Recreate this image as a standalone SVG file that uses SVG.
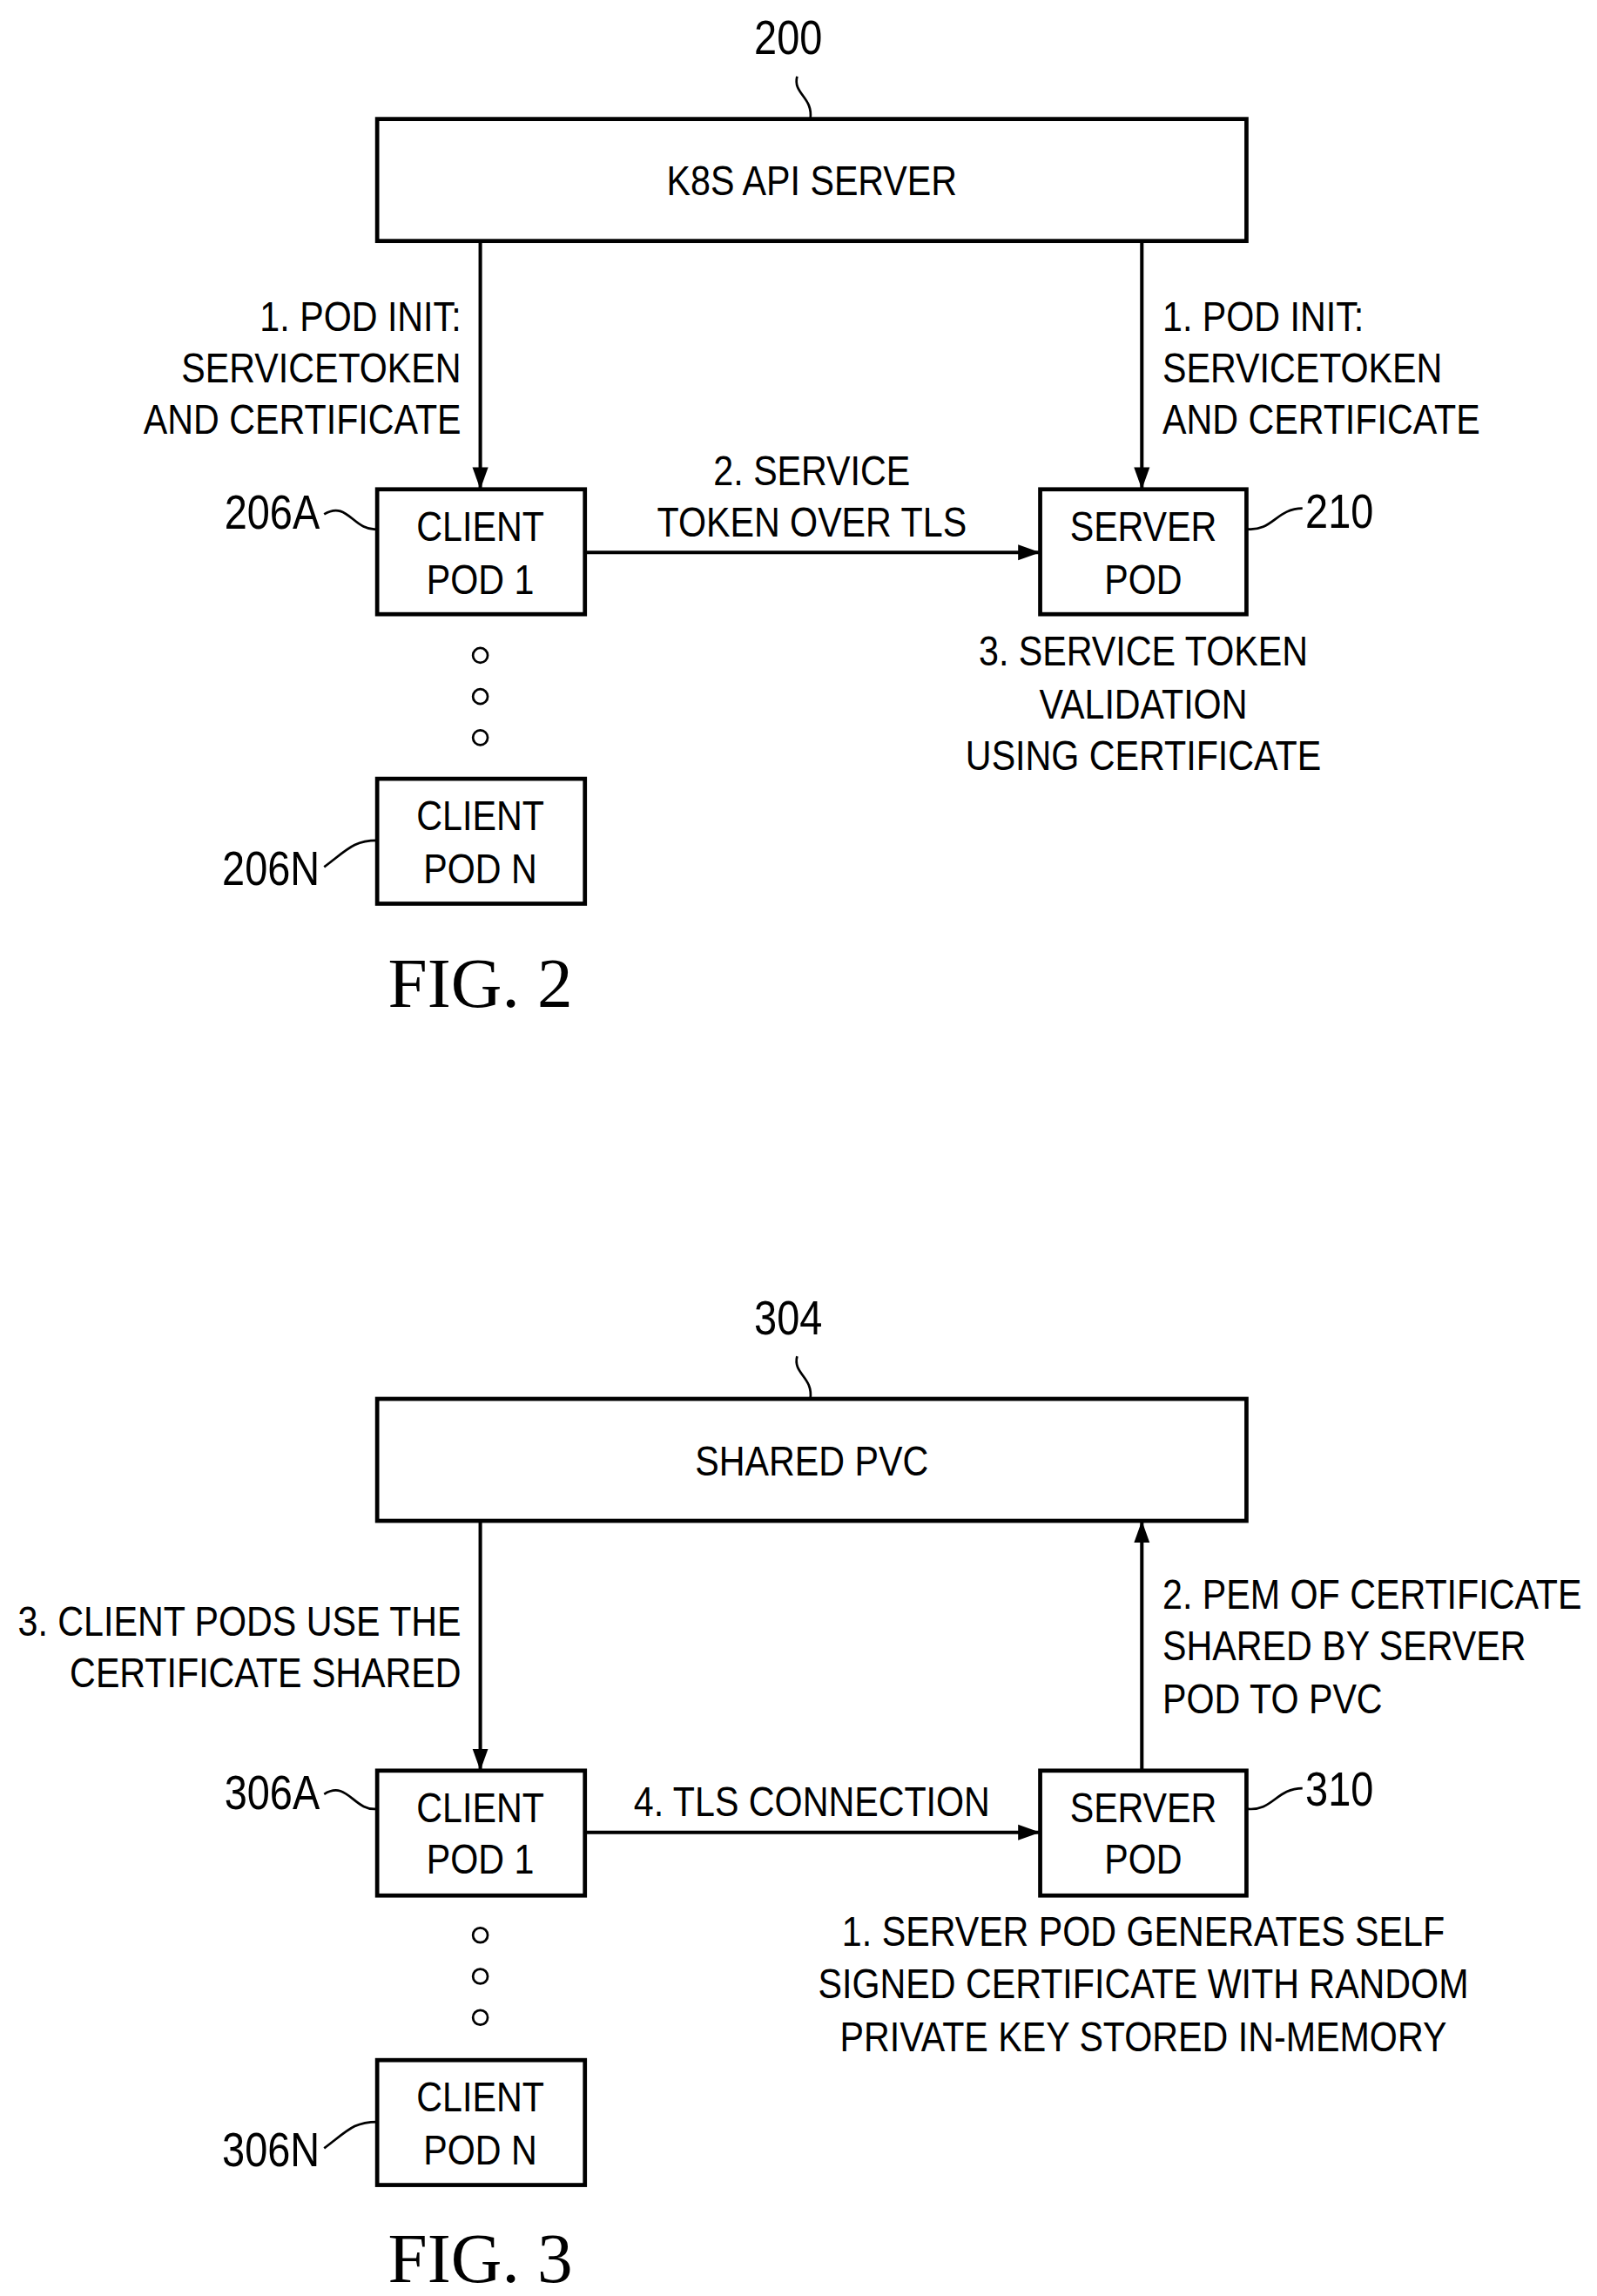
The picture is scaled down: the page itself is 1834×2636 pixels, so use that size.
<svg xmlns="http://www.w3.org/2000/svg" width="1834" height="2636" viewBox="0 0 1834 2636">
<defs>
<marker id="ah" viewBox="0 0 14 10" refX="14" refY="5" markerWidth="15" markerHeight="11" markerUnits="userSpaceOnUse" orient="auto"><path d="M0,0 L14,5 L0,10 z" fill="#000"/></marker>
<style>
.b{fill:#fff;stroke:#000;stroke-width:2.8}
.l{fill:none;stroke:#000;stroke-width:2.4}
.c{fill:none;stroke:#000;stroke-width:1.6}
.t{font-family:"Liberation Sans",Arial,sans-serif;font-size:29px;fill:#000}
.n{font-size:33px}
.m{text-anchor:middle}.r{text-anchor:end}
.f{font-family:"Liberation Serif","Times New Roman",serif;font-size:48px;fill:#000;text-anchor:middle}
</style>
</defs>
<rect width="1834" height="2636" fill="#fff"/>
<g transform="scale(1.692,1.687)">
<g id="connectors">
<line class="l" x1="326" y1="164" x2="326" y2="333" marker-end="url(#ah)"/>
<line class="l" x1="775" y1="164" x2="775" y2="333" marker-end="url(#ah)"/>
<line class="l" x1="397" y1="376" x2="706" y2="376" marker-end="url(#ah)"/>
<line class="l" x1="326" y1="1035" x2="326" y2="1205" marker-end="url(#ah)"/>
<line class="l" x1="775" y1="1205" x2="775" y2="1035" marker-end="url(#ah)"/>
<line class="l" x1="397" y1="1247" x2="706" y2="1247" marker-end="url(#ah)"/>
<path class="c" d="M541,52 C538,64 552,66 550,81"/>
<path class="c" d="M541,923 C538,935 552,937 550,952"/>
<path class="c" d="M220,350 C236,340 240,362 256,360"/>
<path class="c" d="M220,590 C236,578 240,572 256,572"/>
<path class="c" d="M220,1221 C236,1211 240,1233 256,1231"/>
<path class="c" d="M220,1462 C236,1450 240,1444 256,1444"/>
<path class="c" d="M846,360 C864,362 866,346 884,346"/>
<path class="c" d="M846,1231 C864,1233 866,1217 884,1217"/>
</g>
<g id="fig2">
<text class="t n m" transform="translate(535 37) scale(.84 1)">200</text>
<g id="k8s"><rect class="b" x="256" y="81" width="590" height="83"/><text class="t m" transform="translate(551 133) scale(.84 1)">K8S API SERVER</text></g>
<text class="t r" transform="translate(313 225) scale(.84 1)">1. POD INIT:</text>
<text class="t r" transform="translate(313 260) scale(.84 1)">SERVICETOKEN</text>
<text class="t r" transform="translate(313 295) scale(.84 1)">AND CERTIFICATE</text>
<text class="t" transform="translate(789 225) scale(.84 1)">1. POD INIT:</text>
<text class="t" transform="translate(789 260) scale(.84 1)">SERVICETOKEN</text>
<text class="t" transform="translate(789 295) scale(.84 1)">AND CERTIFICATE</text>
<text class="t m" transform="translate(551 330) scale(.84 1)">2. SERVICE</text>
<text class="t m" transform="translate(551 365) scale(.84 1)">TOKEN OVER TLS</text>
<g id="client1"><rect class="b" x="256" y="333" width="141" height="85"/><text class="t m" transform="translate(326 368) scale(.84 1)">CLIENT</text><text class="t m" transform="translate(326 404) scale(.84 1)">POD 1</text></g>
<g id="server"><rect class="b" x="706" y="333" width="140" height="85"/><text class="t m" transform="translate(776 368) scale(.84 1)">SERVER</text><text class="t m" transform="translate(776 404) scale(.84 1)">POD</text></g>
<text class="t n r" transform="translate(217 360) scale(.84 1)">206A</text>
<text class="t n" transform="translate(886 359) scale(.84 1)">210</text>
<circle class="c" cx="326" cy="446" r="5"/><circle class="c" cx="326" cy="474" r="5"/><circle class="c" cx="326" cy="502" r="5"/>
<text class="t m" transform="translate(776 453) scale(.84 1)">3. SERVICE TOKEN</text>
<text class="t m" transform="translate(776 489) scale(.84 1)">VALIDATION</text>
<text class="t m" transform="translate(776 524) scale(.84 1)">USING CERTIFICATE</text>
<g id="clientN"><rect class="b" x="256" y="530" width="141" height="85"/><text class="t m" transform="translate(326 565) scale(.84 1)">CLIENT</text><text class="t m" transform="translate(326 601) scale(.84 1)">POD N</text></g>
<text class="t n r" transform="translate(217 602) scale(.84 1)">206N</text>
<text class="f" x="326" y="685">FIG. 2</text>
</g>
<g id="fig3">
<text class="t n m" transform="translate(535 908) scale(.84 1)">304</text>
<g id="pvc"><rect class="b" x="256" y="952" width="590" height="83"/><text class="t m" transform="translate(551 1004) scale(.84 1)">SHARED PVC</text></g>
<text class="t r" transform="translate(313 1113) scale(.84 1)">3. CLIENT PODS USE THE</text>
<text class="t r" transform="translate(313 1148) scale(.84 1)">CERTIFICATE SHARED</text>
<text class="t" transform="translate(789 1095) scale(.84 1)">2. PEM OF CERTIFICATE</text>
<text class="t" transform="translate(789 1130) scale(.84 1)">SHARED BY SERVER</text>
<text class="t" transform="translate(789 1166) scale(.84 1)">POD TO PVC</text>
<text class="t m" transform="translate(551 1236) scale(.84 1)">4. TLS CONNECTION</text>
<g id="client1b"><rect class="b" x="256" y="1205" width="141" height="85"/><text class="t m" transform="translate(326 1240) scale(.84 1)">CLIENT</text><text class="t m" transform="translate(326 1275) scale(.84 1)">POD 1</text></g>
<g id="serverb"><rect class="b" x="706" y="1205" width="140" height="85"/><text class="t m" transform="translate(776 1240) scale(.84 1)">SERVER</text><text class="t m" transform="translate(776 1275) scale(.84 1)">POD</text></g>
<text class="t n r" transform="translate(217 1231) scale(.84 1)">306A</text>
<text class="t n" transform="translate(886 1229) scale(.84 1)">310</text>
<circle class="c" cx="326" cy="1317" r="5"/><circle class="c" cx="326" cy="1345" r="5"/><circle class="c" cx="326" cy="1373" r="5"/>
<text class="t m" transform="translate(776 1324) scale(.84 1)">1. SERVER POD GENERATES SELF</text>
<text class="t m" transform="translate(776 1360) scale(.84 1)">SIGNED CERTIFICATE WITH RANDOM</text>
<text class="t m" transform="translate(776 1396) scale(.84 1)">PRIVATE KEY STORED IN-MEMORY</text>
<g id="clientNb"><rect class="b" x="256" y="1402" width="141" height="85"/><text class="t m" transform="translate(326 1437) scale(.84 1)">CLIENT</text><text class="t m" transform="translate(326 1473) scale(.84 1)">POD N</text></g>
<text class="t n r" transform="translate(217 1474) scale(.84 1)">306N</text>
<text class="f" x="326" y="1553">FIG. 3</text>
</g>
</g>
</svg>
